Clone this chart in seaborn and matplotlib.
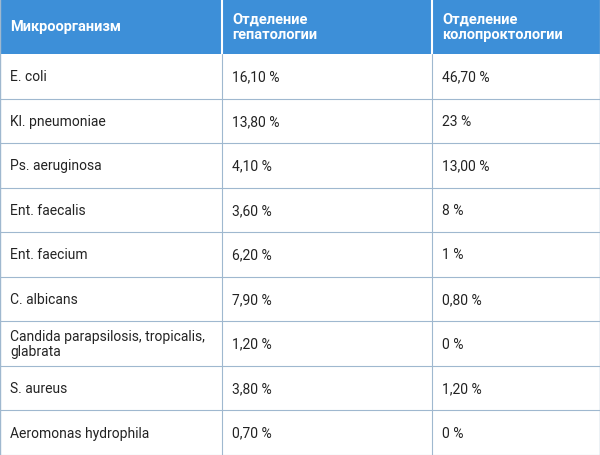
import matplotlib.pyplot as plt
import seaborn as sns
from matplotlib.patches import Rectangle

sns.set_style("white")

headers = ["Микроорганизм", "Отделение\nгепатологии", "Отделение\nколопроктологии"]
organisms = ["E. coli", "Kl. pneumoniae", "Ps. aeruginosa", "Ent. faecalis",
             "Ent. faecium", "C. albicans",
             "Candida parapsilosis, tropicalis,\nglabrata", "S. aureus",
             "Aeromonas hydrophila"]
hepatology = ["16,10 %", "13,80 %", "4,10 %", "3,60 %", "6,20 %", "7,90 %",
              "1,20 %", "3,80 %", "0,70 %"]
coloproctology = ["46,70 %", "23 %", "13,00 %", "8 %", "1 %", "0,80 %",
                  "0 %", "1,20 %", "0 %"]

W, H = 600, 456
header_h = 55
row_h = (H - header_h) / len(organisms)
col_x = [0, 222, 432, W]
blue = "#3d8fd8"
line = "#9fb8cf"
font = "Roboto"

fig = plt.figure(figsize=(6, 4.56), dpi=100)
ax = fig.add_axes([0, 0, 1, 1])
ax.set_xlim(0, W)
ax.set_ylim(H, 0)
ax.axis("off")

ax.add_patch(Rectangle((0, 0), W, header_h, color=blue, lw=0))
for x in col_x[1:-1]:
    ax.plot([x, x], [0, header_h], color="white", lw=1.5)
    ax.plot([x, x], [header_h, H], color=line, lw=0.8)
for i, h in enumerate(headers):
    ax.text(col_x[i] + 10, header_h / 2, h, color="white", fontsize=10.5,
            fontweight="bold", va="center", ha="left", family=font, linespacing=1.1)

for r, (org, hp, cp) in enumerate(zip(organisms, hepatology, coloproctology)):
    y0 = header_h + r * row_h
    ax.plot([0, W], [y0 + row_h, y0 + row_h], color=line, lw=0.8)
    for i, t in enumerate([org, hp, cp]):
        ax.text(col_x[i] + 10, y0 + row_h / 2, t, color="#222222", fontsize=10,
                va="center", ha="left", family=font, linespacing=1.1)

ax.plot([0, 0], [0, H], color=line, lw=1)
ax.plot([W, W], [0, H], color=line, lw=1)

fig.savefig("out.png", dpi=100, facecolor="white")
